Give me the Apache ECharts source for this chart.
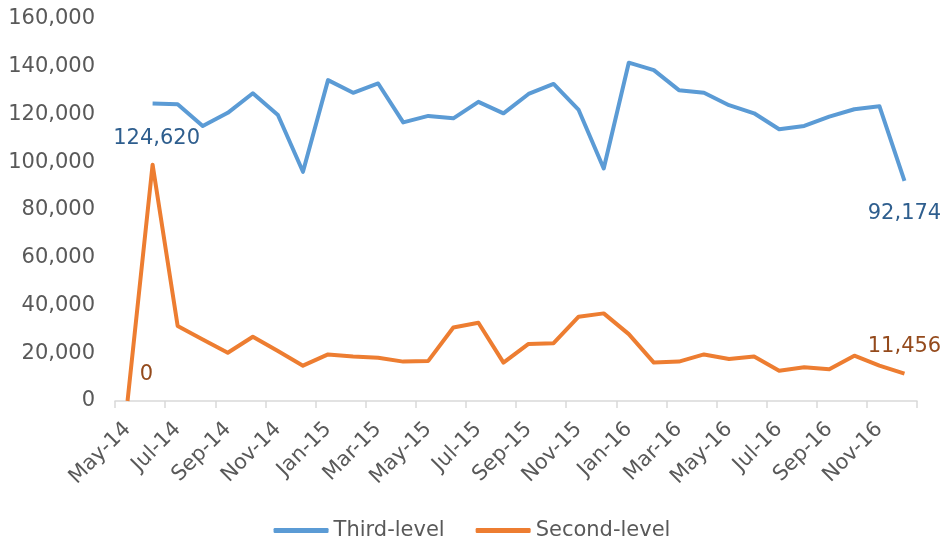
<!DOCTYPE html>
<html>
<head>
    <meta charset="utf-8">
    <title>Third-level vs Second-level</title>
    <script src="https://cdn.jsdelivr.net/npm/echarts@6/dist/echarts.min.js"></script>
    <style>
        html, body { margin: 0; padding: 0; background: #fff; }
        #container { width: 944px; height: 544px; }
    </style>
</head>
<body>
<div id="container"></div>
<script type="text/javascript">
    // months May-14 .. Dec-16
    var months = ['May-14', 'Jun-14', 'Jul-14', 'Aug-14', 'Sep-14', 'Oct-14', 'Nov-14', 'Dec-14',
        'Jan-15', 'Feb-15', 'Mar-15', 'Apr-15', 'May-15', 'Jun-15', 'Jul-15', 'Aug-15', 'Sep-15', 'Oct-15', 'Nov-15', 'Dec-15',
        'Jan-16', 'Feb-16', 'Mar-16', 'Apr-16', 'May-16', 'Jun-16', 'Jul-16', 'Aug-16', 'Sep-16', 'Oct-16', 'Nov-16', 'Dec-16'];

    var thirdLevel = [null, 124620, 124300, 115200, 120700, 128900, 119800, 96000,
        134400, 129100, 133000, 116700, 119400, 118400, 125300, 120500, 128600, 132800, 121900, 97400,
        141700, 138600, 130200, 129100, 123900, 120500, 113800, 115200, 119100, 122200, 123500, 92174];

    var secondLevel = [0, 99000, 31400, 25800, 20200, 26900, 20900, 14800,
        19500, 18600, 18100, 16500, 16800, 30800, 32800, 16100, 23900, 24200, 35300, 36700,
        28000, 16100, 16500, 19500, 17600, 18600, 12700, 14100, 13300, 19000, 14800, 11456];

    var yTicks = [0, 20000, 40000, 60000, 80000, 100000, 120000, 140000, 160000];

    var font = 'DejaVu Sans';
    var grey = '#595959';

    function fmt(v) {
        return String(v).replace(/\B(?=(\d{3})+(?!\d))/g, ',');
    }

    // first and last points get a value label
    function withLabels(arr, firstPos, firstDist, firstOff, lastPos, lastDist, color) {
        var first = -1;
        for (var i = 0; i < arr.length; i++) {
            if (arr[i] !== null) { first = i; break; }
        }
        var last = arr.length - 1;
        return arr.map(function (v, i) {
            if (i === first || i === last) {
                var isFirst = i === first;
                return {
                    value: v,
                    label: {
                        show: true,
                        position: isFirst ? firstPos : lastPos,
                        distance: isFirst ? firstDist : lastDist,
                        offset: isFirst ? firstOff : [0, 0],
                        formatter: function (p) { return fmt(p.value); },
                        color: color,
                        fontFamily: font,
                        fontSize: 21
                    }
                };
            }
            return v;
        });
    }

    var mychart = echarts.init(document.getElementById('container'));

    var options = {
        animation: false,
        grid: { left: 115, right: 27, top: 19, bottom: 143, containLabel: false },
        legend: {
            bottom: -2,
            left: 'center',
            icon: 'roundRect',
            itemWidth: 55,
            itemHeight: 5,
            itemGap: 31,
            textStyle: { color: grey, fontFamily: font, fontSize: 21 },
            data: ['Third-level', 'Second-level']
        },
        xAxis: {
            type: 'category',
            data: months,
            boundaryGap: true,
            axisLine: { lineStyle: { color: '#D9D9D9', width: 1.5 } },
            axisTick: { show: true, interval: 1, length: 7, lineStyle: { color: '#D9D9D9', width: 1.5 } },
            axisLabel: {
                interval: 1,
                rotate: 45,
                margin: 25,
                color: grey,
                fontFamily: font,
                fontSize: 21
            },
            splitLine: { show: false }
        },
        yAxis: {
            type: 'value',
            min: yTicks[0],
            max: yTicks[yTicks.length - 1],
            interval: yTicks[1] - yTicks[0],
            axisLine: { show: false },
            axisTick: { show: false },
            splitLine: { show: false },
            axisLabel: {
                margin: 20,
                color: grey,
                fontFamily: font,
                fontSize: 21,
                formatter: fmt
            }
        },
        series: [
            {
                name: 'Third-level',
                type: 'line',
                data: withLabels(thirdLevel, 'bottom', 25, [4, 0], 'bottom', 22, '#2E5E8E'),
                symbol: 'circle',
                symbolSize: 0,
                showSymbol: true,
                color: '#5B9BD5',
                lineStyle: { width: 4, color: '#5B9BD5', join: 'round' },
                z: 2
            },
            {
                name: 'Second-level',
                type: 'line',
                data: withLabels(secondLevel, 'top', 16, [19, 0], 'top', 17, '#944A1C'),
                symbol: 'circle',
                symbolSize: 0,
                showSymbol: true,
                color: '#ED7D31',
                lineStyle: { width: 4, color: '#ED7D31', join: 'round' },
                z: 3
            }
        ]
    };

    mychart.setOption(options);
</script>
</body>
</html>
